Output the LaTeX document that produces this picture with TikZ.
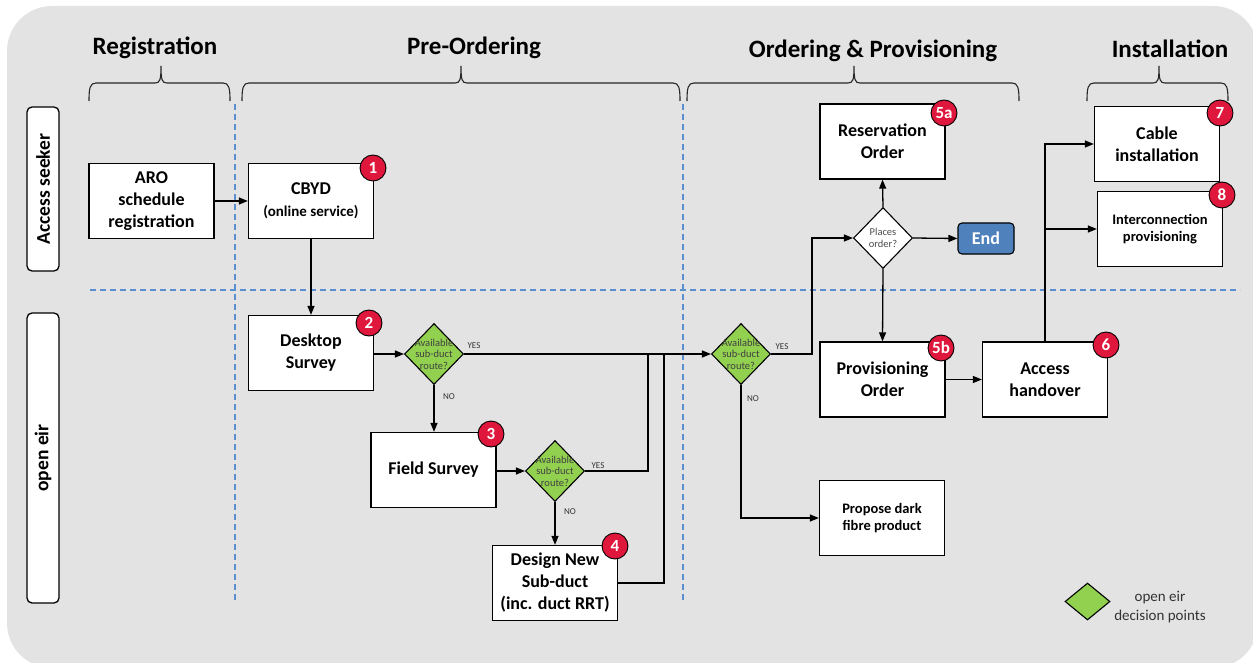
\documentclass[tikz,border=0pt]{standalone}
\usepackage{fontspec}
\setmainfont{Carlito}
\usetikzlibrary{shapes.geometric,arrows.meta}
\definecolor{bggray}{HTML}{E3E3E3}
\definecolor{dashblue}{HTML}{5B8FD0}
\definecolor{decgreen}{HTML}{92D050}
\definecolor{badgered}{HTML}{E0173C}
\definecolor{endblue}{HTML}{4F81BD}
\definecolor{txtgray}{HTML}{333333}
\begin{document}
\begin{tikzpicture}[x=1pt,y=-1pt,
  box/.style={draw=black, line width=1.3pt, fill=white, align=center, inner sep=1pt,
    minimum width=125pt, minimum height=75pt, font=\bfseries\fontsize{18}{22}\selectfont},
  smallbox/.style={box, font=\bfseries\fontsize{14.5}{17}\selectfont},
  lane/.style={draw=black, line width=1.3pt, fill=white, rounded corners=5pt, minimum height=32pt, rotate=90, font=\bfseries\fontsize{19.5}{22}\selectfont},
  decision/.style={diamond, draw=black, line width=1.1pt, fill=decgreen, inner sep=0pt, minimum width=59pt, minimum height=61pt},
  dectext/.style={align=center, font=\fontsize{10.5}{11.5}\selectfont, text=black!75},
  badge/.style={circle, draw=black, line width=0.9pt, fill=badgered, minimum size=26pt, inner sep=0pt, text=white, font=\bfseries\fontsize{17}{17}\selectfont},
  head/.style={anchor=base, font=\bfseries\fontsize{25}{25}\selectfont},
  yn/.style={font=\fontsize{9}{9}\selectfont, text=txtgray},
  conn/.style={line width=1.3pt, draw=black},
  arr/.style={conn, -{Triangle[length=9pt,width=7pt]}},
  sep/.style={dashblue, line width=1.2pt, dash pattern=on 6pt off 4pt},
  bracestyle/.style={line width=1.1pt, draw=black!85}
]
\useasboundingbox (0,0) rectangle (1253,663);
\fill[bggray, rounded corners=45pt] (7,6) rectangle (1258,668);

% headings
\node[head] (h1) at (155,55) {Registration};
\node[head] (h2) at (474,55) {Pre-Ordering};
\node[head] (h3) at (873,58) {Ordering \& Provisioning};
\node[head] (h4) at (1170,58) {Installation};

% braces
\newcommand{\mybrace}[3]{%
\draw[bracestyle] (#1,101) .. controls (#1,88) and ({#1+1},83) .. ({#1+7},83) -- ({#2-6},83)
  .. controls ({#2-1},83) and (#2,80) .. (#2,66) .. controls (#2,80) and ({#2+1},83) .. ({#2+6},83)
  -- ({#3-7},83) .. controls ({#3-1},83) and (#3,88) .. (#3,101);}
\mybrace{89}{161}{230}
\mybrace{242}{461}{680}
\mybrace{687}{854}{1019}
\mybrace{1087}{1159}{1228}

% separators
\draw[sep] (235,104) -- (235,603);
\draw[sep] (683,104) -- (683,603);
\draw[sep] (90,290) -- (1240,290);

% lanes
\node[lane, minimum width=164pt] (lane1) at (43,189) {Access seeker};
\node[lane, minimum width=290pt] (lane2) at (43,458) {open eir};

% boxes
\node[box] (aro) at (151.5,201) {ARO\\schedule\\registration};
\node[box] (cbyd) at (311,201) {CBYD\\{\fontsize{15}{18}\selectfont(online service)}};
\node[box] (desk) at (311,353) {Desktop\\Survey};
\node[box] (field) at (433.5,470) {Field Survey};
\node[box] (design) at (555,583) {Design New\\Sub-duct\\(inc. duct RRT)};
\node[box] (res) at (882.5,141.5) {Reservation\\Order};
\node[box] (prov) at (882.5,379.5) {Provisioning\\Order};
\node[box] (access) at (1045,379.5) {Access\\handover};
\node[box] (cable) at (1157,144) {Cable\\installation};
\node[smallbox] (inter) at (1160,229) {Interconnection\\provisioning};
\node[smallbox] (propose) at (882,518) {Propose dark\\fibre product};
\node[draw=black, line width=1.1pt, fill=endblue, rounded corners=4pt, minimum width=56pt, minimum height=31pt, text=white, font=\bfseries\fontsize{18}{18}\selectfont] (end) at (986,238.5) {End};

% decisions
\node[decision, label={[dectext]center:Available\\sub-duct\\route?}] (d1) at (434,354) {};
\node[decision, label={[dectext]center:Available\\sub-duct\\route?}] (d2) at (555,471) {};
\node[decision, label={[dectext]center:Available\\sub-duct\\route?}] (d3) at (741,354) {};
\node[decision, fill=white, label={[align=center, font=\fontsize{10.5}{12}\selectfont, text=black!70]center:Places\\order?}] (place) at (883,238) {};

% badges
\node[badge] (b1) at (373,168) {1};
\node[badge] (b2) at (369,323) {2};
\node[badge] (b3) at (491,434) {3};
\node[badge] (b4) at (615,546) {4};
\node[badge] (b5a) at (944,113) {5a};
\node[badge] (b5b) at (941,348) {5b};
\node[badge] (b6) at (1106,345) {6};
\node[badge] (b7) at (1220,113) {7};
\node[badge] (b8) at (1222,195) {8};

% connectors
\draw[arr] (aro) -- (cbyd);
\draw[arr] (cbyd) -- (desk);
\draw[arr] (desk.east |- d1) -- (d1);
\draw[arr] (d1.east) -- (d3.west);
\draw[arr] (d1.south) -- (field.north -| d1);
\draw[arr] (field.east |- d2) -- (d2.west);
\draw[conn] (d2.east) -| (648,354);
\draw[arr] (d2.south) -- (design.north);
\draw[conn] (design.east) -| (664,354);
\draw[arr] (d3.east) -- (812,354) |- (place.west);
\draw[arr] (place.north) -- (res.south);
\draw[arr] (place.east) -- (end.west);
\draw[arr] (place.south) -- (prov.north);
\draw[arr] (prov.east) -- (access.west);
\draw[arr] (access.north) |- (cable.west);
\coordinate (br) at (1045,229);
\draw[arr] (br) -- (inter.west);
\draw[arr] (d3.south) |- (propose.west);

% yes/no labels
\node[yn] (y1) at (474,346) {YES};
\node[yn] (n1) at (449,397) {NO};
\node[yn] (y2) at (598,466) {YES};
\node[yn] (n2) at (570,512) {NO};
\node[yn] (y3) at (782,347) {YES};
\node[yn] (n3) at (753,399) {NO};

% legend
\node[diamond, draw=black, line width=1.1pt, fill=decgreen, inner sep=0pt, minimum width=45pt, minimum height=37pt] (leg) at (1087.5,601.5) {};
\node[align=center, text=txtgray, font=\fontsize{15}{19}\selectfont] (legt) at (1160,607) {open eir\\decision points};
\end{tikzpicture}
\end{document}
